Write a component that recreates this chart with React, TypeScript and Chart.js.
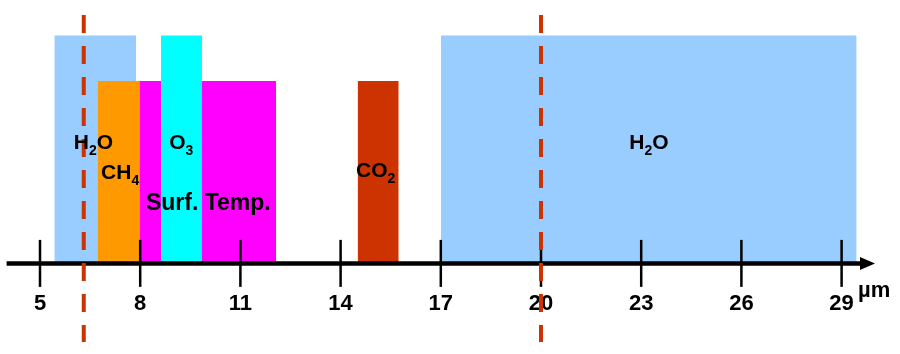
import React, { useEffect, useRef } from 'react';
import { Chart, registerables } from 'chart.js';

Chart.register(...registerables);

// ---- data ----
// absorption / sensitivity bands, listed bottom-to-top in drawing order
const bandNames = ['H2O', 'Surf. Temp.', 'CH4', 'O3', 'CO2', 'H2O'];
const bandStart = [5.43, 7.97, 6.73, 8.62, 14.51, 17.0];
const bandEnd = [7.88, 12.07, 7.97, 9.85, 15.74, 29.45];
const bandHeight = [10, 8, 8, 10, 8, 10];
const bandColors = ['#99CCFF', '#FF00FF', '#FF9900', '#00FFFF', '#CC3300', '#99CCFF'];

// dashed marker wavelengths (µm)
const markerWavelengths = [6.31, 20];

// axis
const tickValues = [5, 8, 11, 14, 17, 20, 23, 26, 29];
const axisUnit = 'µm';

// text labels ("_" marks a subscript character), anchored in data coordinates
const labelTexts = ['H_2O', 'CH_4', 'O_3', 'Surf. Temp.', 'CO_2', 'H_2O'];
const labelX = [6.6, 7.4, 9.23, 10.04, 15.05, 23.23];
const labelY = [5.37, 4.05, 5.37, 2.69, 4.14, 5.37];

const FONT = '"Liberation Sans", Arial, Helvetica, sans-serif';
const LABEL_FONT_SIZES: Record<string, number> = { 'Surf. Temp.': 23 };
const DEFAULT_LABEL_SIZE = 21;

function drawRich(ctx: CanvasRenderingContext2D, text: string, cx: number, cy: number, size: number) {
  const segs: { t: string; sub: boolean }[] = [];
  for (let i = 0; i < text.length; i++) {
    if (text[i] === '_' && i + 1 < text.length) {
      segs.push({ t: text[i + 1], sub: true });
      i++;
    } else {
      const last = segs[segs.length - 1];
      if (last && !last.sub) last.t += text[i];
      else segs.push({ t: text[i], sub: false });
    }
  }
  const mainFont = `bold ${size}px ${FONT}`;
  const subSize = Math.round(size * 0.65);
  const subFont = `bold ${subSize}px ${FONT}`;
  let total = 0;
  const widths = segs.map((s) => {
    ctx.font = s.sub ? subFont : mainFont;
    const w = ctx.measureText(s.t).width;
    total += w;
    return w;
  });
  let x = cx - total / 2;
  const base = cy + size * 0.36;
  ctx.textAlign = 'left';
  ctx.textBaseline = 'alphabetic';
  segs.forEach((s, i) => {
    ctx.font = s.sub ? subFont : mainFont;
    ctx.fillText(s.t, x, s.sub ? base + size * 0.3 : base);
    x += widths[i];
  });
}

let axisDrawn = false;

const spectrumPlugin = {
  id: 'spectrumDecor',
  beforeDatasetsDraw() {
    axisDrawn = false;
  },
  beforeDatasetDraw(chart: any, args: any) {
    const ds = chart.data.datasets[args.index];
    if (!ds.isMarker || axisDrawn) return;
    axisDrawn = true;
    drawAxis(chart);
  },
  afterDatasetsDraw(chart: any) {
    if (!axisDrawn) drawAxis(chart);
    const ctx: CanvasRenderingContext2D = chart.ctx;
    const xs = chart.scales.x;
    const ys = chart.scales.y;
    ctx.save();
    ctx.fillStyle = '#000';
    labelTexts.forEach((t, i) => {
      const size = LABEL_FONT_SIZES[t] ?? DEFAULT_LABEL_SIZE;
      drawRich(ctx, t, xs.getPixelForValue(labelX[i]), ys.getPixelForValue(labelY[i]), size);
    });
    ctx.restore();
  },
};

function drawAxis(chart: any) {
  const ctx: CanvasRenderingContext2D = chart.ctx;
  const xs = chart.scales.x;
  const ys = chart.scales.y;
  const { left, right } = chart.chartArea;
  const y0 = ys.getPixelForValue(0);
  ctx.save();
  ctx.strokeStyle = '#000';
  ctx.fillStyle = '#000';
  ctx.lineWidth = 4.5;
  ctx.beginPath();
  ctx.moveTo(left, y0);
  ctx.lineTo(right - 12, y0);
  ctx.stroke();
  ctx.beginPath();
  ctx.moveTo(right, y0);
  ctx.lineTo(right - 15, y0 - 6.5);
  ctx.lineTo(right - 15, y0 + 6.5);
  ctx.closePath();
  ctx.fill();
  ctx.lineWidth = 2.5;
  xs.ticks.forEach((t: any) => {
    const px = xs.getPixelForValue(t.value);
    ctx.beginPath();
    ctx.moveTo(px, y0 - 23.5);
    ctx.lineTo(px, y0 + 23.5);
    ctx.stroke();
  });
  ctx.font = `bold 22px ${FONT}`;
  ctx.textAlign = 'left';
  ctx.textBaseline = 'alphabetic';
  ctx.fillText(axisUnit, right - 17, y0 + 34);
  ctx.restore();
}

export default function App() {
  const ref = useRef<HTMLCanvasElement | null>(null);

  useEffect(() => {
    document.body.style.margin = '0';
    document.body.style.overflow = 'hidden';
    const canvas = ref.current;
    if (!canvas) return;

    const bandSets = bandNames.map((name, i) => ({
      label: name,
      data: [
        { x: bandStart[i], y: 0 },
        { x: bandStart[i], y: bandHeight[i] },
        { x: bandEnd[i], y: bandHeight[i] },
        { x: bandEnd[i], y: 0 },
      ],
      backgroundColor: bandColors[i],
      borderColor: bandColors[i],
      borderWidth: 0,
      showLine: false,
      fill: 'origin',
      pointRadius: 0,
      tension: 0,
      order: 10 + (bandNames.length - i),
    }));

    const markerSets = markerWavelengths.map((w, i) => ({
      label: 'marker' + i,
      isMarker: true,
      data: [
        { x: w, y: 10.9 },
        { x: w, y: -3.45 },
      ],
      borderColor: '#CC3300',
      backgroundColor: '#CC3300',
      borderWidth: 4,
      borderDash: [18, 13],
      borderCapStyle: 'butt',
      fill: false,
      pointRadius: 0,
      tension: 0,
      order: i,
    }));

    const chart = new Chart(canvas, {
      type: 'line',
      data: { datasets: [...markerSets, ...bandSets] as any },
      options: {
        responsive: false,
        devicePixelRatio: 1,
        animation: false,
        events: [],
        layout: { padding: { left: 6.6, right: 25, top: 15, bottom: 12 } },
        plugins: {
          legend: { display: false },
          tooltip: { enabled: false },
          filler: { propagate: false },
        },
        scales: {
          x: {
            type: 'linear',
            min: 4,
            max: 30,
            position: { y: 0 } as any,
            afterBuildTicks: (s: any) => {
              s.ticks = tickValues.map((v) => ({ value: v }));
            },
            grid: { display: false, drawTicks: false },
            border: { display: false },
            ticks: {
              color: '#000',
              font: { family: FONT, size: 22, weight: 'bold' },
              padding: 27,
              maxRotation: 0,
              autoSkip: false,
              callback: (v: any) => String(v),
            },
          },
          y: {
            type: 'linear',
            min: -3.45,
            max: 10.9,
            display: false,
          },
        },
      },
      plugins: [spectrumPlugin],
    });

    return () => chart.destroy();
  }, []);

  return (
    <div style={{ width: 900, height: 354, background: '#fff' }}>
      <canvas ref={ref} width={900} height={354} style={{ display: 'block' }} />
    </div>
  );
}
